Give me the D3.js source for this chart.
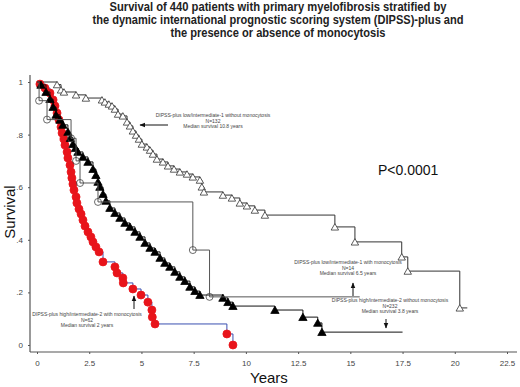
<!DOCTYPE html>
<html>
<head>
<meta charset="utf-8">
<script src="https://cdn.jsdelivr.net/npm/d3@7"></script>
<style>
body { margin: 0; background: #fff; }
svg { display: block; font-family: Arial, "Liberation Sans", sans-serif; }
</style>
</head>
<body>
<svg id="chart" width="520" height="387"></svg>
<script>
// DIPSS-plus low/int-1 without monocytosis (open triangles)
var lowNoMonoT = [0, 0.96, 1.15, 1.29, 1.87, 2.34, 3.11, 3.25, 3.44, 3.59, 3.73, 3.88, 4.11, 4.31, 4.45, 4.59, 4.74, 4.88, 5.02, 5.26, 5.41, 5.55, 5.74, 6.03, 6.27, 6.56, 6.84, 7.18, 7.46, 7.80, 7.89, 7.99, 8.90, 9.33, 9.71, 10.05, 10.43, 10.91, 14.26, 15.22, 17.46, 17.75, 20.24, 20.6];
var lowNoMonoS = [1, 0.99, 0.970, 0.962, 0.951, 0.939, 0.932, 0.924, 0.916, 0.909, 0.897, 0.878, 0.871, 0.848, 0.833, 0.814, 0.798, 0.783, 0.764, 0.753, 0.741, 0.726, 0.707, 0.696, 0.681, 0.669, 0.658, 0.650, 0.639, 0.627, 0.601, 0.582, 0.570, 0.559, 0.540, 0.529, 0.513, 0.494, 0.449, 0.392, 0.335, 0.281, 0.141, 0.141];

// DIPSS-plus low/int-1 with monocytosis (open circles)
var lowMonoT = [0, 0.10, 0.48, 1.63, 1.87, 2.06, 2.92, 7.46, 8.26, 15.45];
var lowMonoS = [1, 0.929, 0.857, 0.786, 0.70, 0.616, 0.544, 0.361, 0.183, 0.183];

// DIPSS-plus high/int-2 without monocytosis (filled triangles)
var highNoMonoT = [0, 0.19, 0.43, 0.62, 0.77, 0.91, 1.10, 1.24, 1.48, 1.60, 1.72, 1.84, 1.96, 2.20, 2.44, 2.68, 2.82, 2.92, 3.01, 3.16, 3.30, 3.49, 3.73, 3.97, 4.21, 4.45, 4.69, 4.93, 5.17, 5.41, 5.65, 5.89, 6.12, 6.36, 6.60, 6.84, 7.08, 7.32, 7.56, 7.80, 8.90, 9.14, 9.38, 11.39, 12.73, 13.44, 13.64, 17.5];
var highNoMonoS = [1, 0.989, 0.962, 0.935, 0.905, 0.875, 0.856, 0.837, 0.810, 0.787, 0.764, 0.749, 0.734, 0.715, 0.696, 0.669, 0.646, 0.620, 0.601, 0.574, 0.548, 0.521, 0.502, 0.483, 0.464, 0.449, 0.430, 0.411, 0.388, 0.369, 0.354, 0.331, 0.312, 0.297, 0.278, 0.259, 0.243, 0.221, 0.205, 0.190, 0.179, 0.163, 0.148, 0.133, 0.106, 0.084, 0.049, 0.049];

// DIPSS-plus high/int-2 with monocytosis (red circles)
var highMonoT = [0, 0.14, 0.38, 0.62, 0.77, 0.86, 0.96, 1.05, 1.15, 1.20, 1.29, 1.34, 1.44, 1.48, 1.58, 1.63, 1.67, 1.72, 1.77, 1.87, 1.91, 2.01, 2.11, 2.20, 2.30, 2.44, 2.58, 2.68, 2.82, 2.97, 3.16, 3.73, 3.83, 4.11, 4.13, 4.59, 4.98, 5.31, 5.50, 5.52, 5.65, 9.09, 9.38];
var highMonoS = [1, 0.992, 0.977, 0.958, 0.932, 0.909, 0.882, 0.856, 0.829, 0.806, 0.783, 0.760, 0.734, 0.711, 0.684, 0.658, 0.635, 0.612, 0.589, 0.563, 0.540, 0.517, 0.498, 0.475, 0.452, 0.430, 0.411, 0.392, 0.373, 0.354, 0.316, 0.297, 0.274, 0.255, 0.236, 0.213, 0.190, 0.163, 0.133, 0.106, 0.080, 0.042, 0.0];

var xTicks = [0, 2.5, 5, 7.5, 10, 12.5, 15, 17.5, 20, 22.5];
var yTicks = [0, 0.2, 0.4, 0.6, 0.8, 1];

var titleLines = [
	"Survival of 440 patients with primary myelofibrosis stratified by",
	"the dynamic international prognostic scoring system (DIPSS)-plus and",
	"the presence or absence of monocytosis"
];

var notes = [
	{ lines: ["DIPSS-plus low/intermediate-1  without monocytosis", "N=132", "Median survival 10.8 years"], x: 213, y: 117 },
	{ lines: ["DIPSS-plus low/intermediate-1  with monocytosis", "N=14", "Median survival 6.5 years"], x: 348, y: 264 },
	{ lines: ["DIPSS-plus high/intermediate-2  without monocytosis", "N=232", "Median survival 3.8 years"], x: 390, y: 302 },
	{ lines: ["DIPSS-plus high/intermediate-2  with monocytosis", "N=62", "Median survival 2 years"], x: 87, y: 316 }
];

var svg = d3.select("#chart");

var x = d3.scaleLinear().domain([0, 22.5]).range([37, 507]);
var y = d3.scaleLinear().domain([0, 1]).range([345, 82]);

// title
var titleWidths = [337, 371, 215];
svg.append("g").selectAll("text").data(titleLines).enter().append("text")
	.attr("x", 278)
	.attr("y", function(d, i) { return 11 + i * 13; })
	.attr("text-anchor", "middle")
	.attr("font-size", 12)
	.attr("font-weight", "bold")
	.attr("fill", "#222")
	.attr("textLength", function(d, i) { return titleWidths[i]; })
	.attr("lengthAdjust", "spacingAndGlyphs")
	.text(function(d) { return d; });

// axes
var axisColor = "#555";
svg.append("line").attr("x1", 30).attr("x2", 30).attr("y1", 75).attr("y2", 352)
	.attr("stroke", axisColor).attr("stroke-width", 1.2);
svg.append("line").attr("x1", 30).attr("x2", 517).attr("y1", 352).attr("y2", 352)
	.attr("stroke", axisColor).attr("stroke-width", 1.2);

var yFmt = function(d) { return d === 0 ? "0" : d === 1 ? "1" : d3.format(".1f")(d).replace(/^0/, ""); };
var gy = svg.append("g").attr("transform", "translate(30,0)")
	.call(d3.axisLeft(y).tickValues(yTicks).tickFormat(yFmt).tickSize(2).tickPadding(5));
gy.select(".domain").remove();
gy.selectAll("line").attr("stroke", axisColor);
gy.selectAll("text").attr("font-size", 8).attr("fill", "#444").attr("font-family", "Arial, 'Liberation Sans', sans-serif");

var gx = svg.append("g").attr("transform", "translate(0,352)")
	.call(d3.axisBottom(x).tickValues(xTicks).tickFormat(d3.format("")).tickSize(2).tickPadding(6));
gx.select(".domain").remove();
gx.selectAll("line").attr("stroke", axisColor);
gx.selectAll("text").attr("font-size", 8).attr("fill", "#444").attr("font-family", "Arial, 'Liberation Sans', sans-serif");

svg.append("text").attr("x", 250).attr("y", 383)
	.attr("font-size", 15).attr("fill", "#111").text("Years");
svg.append("text").attr("transform", "translate(15,212) rotate(-90)")
	.attr("text-anchor", "middle").attr("font-size", 15).attr("fill", "#111").text("Survival");

svg.append("text").attr("x", 378).attr("y", 175)
	.attr("font-size", 14).attr("fill", "#111").text("P<0.0001");

// curves
function zip(ts, ss) {
	return ts.map(function(t, i) { return [t, ss[i]]; });
}
var line = d3.line()
	.x(function(d) { return x(d[0]); })
	.y(function(d) { return y(d[1]); })
	.curve(d3.curveStepAfter);

function drops(pts) {
	return pts.filter(function(d, i) { return i > 0 && d[1] < pts[i - 1][1]; });
}

function drawSeries(pts, lineColor, marker) {
	var g = svg.append("g");
	g.append("path").attr("d", line(pts))
		.attr("fill", "none").attr("stroke", lineColor).attr("stroke-width", 1);
	var m = drops(pts);
	if (marker.type === "triangle") {
		var tri = d3.symbol().type(d3.symbolTriangle).size(marker.size);
		g.selectAll("path.m").data(m).enter().append("path")
			.attr("class", "m")
			.attr("d", tri)
			.attr("transform", function(d) { return "translate(" + x(d[0]) + "," + (y(d[1]) + 1) + ")"; })
			.attr("fill", marker.fill).attr("stroke", marker.stroke).attr("stroke-width", 0.8);
	} else {
		g.selectAll("circle").data(m).enter().append("circle")
			.attr("cx", function(d) { return x(d[0]); })
			.attr("cy", function(d) { return y(d[1]); })
			.attr("r", marker.r)
			.attr("fill", marker.fill).attr("stroke", marker.stroke).attr("stroke-width", 0.8);
	}
}

drawSeries(zip(lowNoMonoT, lowNoMonoS), "#333", { type: "triangle", size: 24, fill: "#fff", stroke: "#333" });
drawSeries(zip(highMonoT, highMonoS), "#3a4fb0", { type: "circle", r: 4, fill: "#e8141b", stroke: "#e8141b" });
drawSeries(zip(highNoMonoT, highNoMonoS), "#111", { type: "triangle", size: 30, fill: "#000", stroke: "#000" });
drawSeries(zip(lowMonoT, lowMonoS), "#555", { type: "circle", r: 3.5, fill: "none", stroke: "#444" });

// annotations
var ng = svg.append("g");
notes.forEach(function(n) {
	ng.append("g").selectAll("text").data(n.lines).enter().append("text")
		.attr("x", n.x)
		.attr("y", function(d, i) { return n.y + i * 5.5; })
		.attr("text-anchor", "middle")
		.attr("font-size", 5)
		.attr("fill", "#444")
		.text(function(d) { return d; });
});

// arrows
var arrows = [
	{ x1: 168, y1: 125, x2: 140, y2: 125 },
	{ x1: 353, y1: 296, x2: 353, y2: 283 },
	{ x1: 386, y1: 319, x2: 386, y2: 328 },
	{ x1: 134, y1: 309, x2: 134, y2: 296 }
];
svg.append("defs").append("marker")
	.attr("id", "ah").attr("viewBox", "0 0 10 10").attr("refX", 9).attr("refY", 5)
	.attr("markerWidth", 6).attr("markerHeight", 6).attr("orient", "auto")
	.append("path").attr("d", "M0,1L10,5L0,9z").attr("fill", "#111");
svg.append("g").selectAll("line").data(arrows).enter().append("line")
	.attr("x1", function(d) { return d.x1; }).attr("y1", function(d) { return d.y1; })
	.attr("x2", function(d) { return d.x2; }).attr("y2", function(d) { return d.y2; })
	.attr("stroke", "#111").attr("stroke-width", 1)
	.attr("marker-end", "url(#ah)");
</script>
</body>
</html>
